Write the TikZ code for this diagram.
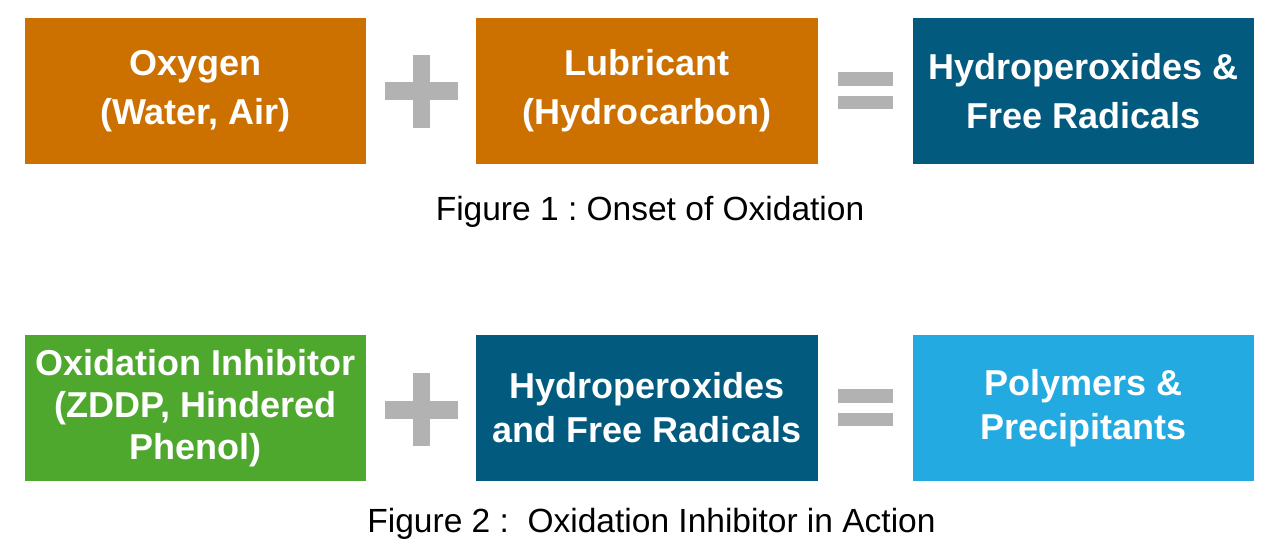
\documentclass[tikz,border=0pt]{standalone}
\usepackage{fontspec}
\setmainfont{Liberation Sans}
\usepackage{tikz}
\usetikzlibrary{positioning, calc}
\definecolor{oxorange}{RGB}{204,112,0}
\definecolor{oxdarkblue}{RGB}{2,90,127}
\definecolor{oxgreen}{RGB}{79,168,46}
\definecolor{oxlightblue}{RGB}{34,170,225}
\definecolor{oxgray}{RGB}{178,178,178}
\frenchspacing

\begin{document}
\begin{tikzpicture}[x=0.01cm, y=-0.01cm,
    box/.style={minimum width=3.41cm, minimum height=1.46cm, inner sep=0pt,
      align=center, text=white},
    boxfont/.style={font=\fontsize{10.24pt}{#1}\selectfont\bfseries},
    caption/.style={anchor=base, font=\fontsize{9.53pt}{11pt}\selectfont},
    opsign/.style={fill=oxgray}]
    \useasboundingbox (0,0) rectangle (1280,559);

    % Figure 1
    \node [box, boxfont=13.9pt, fill=oxorange] (oxygen) at (195.5,91) {Oxygen\\(Water, Air)};
    \node [box, boxfont=13.9pt, fill=oxorange] (lubricant) at (647,91) {Lubricant\\(Hydrocarbon)};
    \node [box, boxfont=13.9pt, fill=oxdarkblue] (hydro1) at (1083.5,91) {Hydroperoxides \&\\Free Radicals};
    \node [caption] (cap1) at (650,221) {Figure 1 : Onset of Oxidation};

    % Figure 2
    \node [box, boxfont=11.95pt, fill=oxgreen] (inhibitor) at (195.5,408) {Oxidation Inhibitor\\(ZDDP, Hindered\\Phenol)};
    \node [box, boxfont=12.5pt, fill=oxdarkblue] (hydro2) at (647,408) {Hydroperoxides\\and Free Radicals};
    \node [box, boxfont=12.5pt, fill=oxlightblue] (polymers) at (1083.5,408) {Polymers \&\\Precipitants};
    \node [caption] (cap2) at (651.5,533) {Figure 2 :~ Oxidation Inhibitor in Action};

    % plus and equals signs
    \coordinate (plus1) at ($(oxygen.east)!0.5!(lubricant.west)+(0,0.5)$);
    \coordinate (plus2) at ($(inhibitor.east)!0.5!(hydro2.west)+(0,2)$);
    \coordinate (eq1) at ($(lubricant.east)!0.5!(hydro1.west)$);
    \coordinate (eq2) at ($(hydro2.east)!0.5!(polymers.west)$);
    \foreach \p in {plus1, plus2} {
        \fill [opsign] ($(\p)+(-36.5,-9)$) rectangle ($(\p)+(36.5,9)$);
        \fill [opsign] ($(\p)+(-8.5,-36.5)$) rectangle ($(\p)+(8.5,36.5)$);
    }
    \foreach \e in {eq1, eq2} {
        \fill [opsign] ($(\e)+(-27.5,-19)$) rectangle ($(\e)+(27.5,-5)$);
        \fill [opsign] ($(\e)+(-27.5,5)$) rectangle ($(\e)+(27.5,18.5)$);
    }
\end{tikzpicture}
\end{document}
